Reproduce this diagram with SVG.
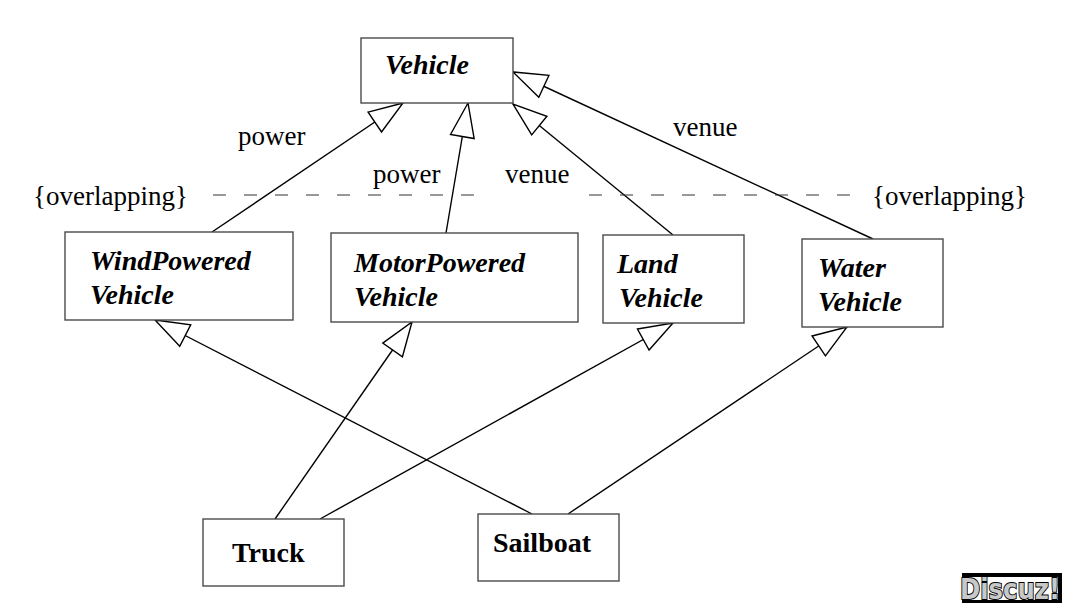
<svg xmlns="http://www.w3.org/2000/svg" width="1080" height="613" viewBox="0 0 1080 613">
<defs>
<style>
.box{fill:#fff;stroke:#4a4a4a;stroke-width:1.4}
.cls{font-family:"Liberation Serif","Times New Roman",serif;font-weight:bold;font-style:italic;font-size:28px;fill:#000}
.leaf{font-family:"Liberation Serif","Times New Roman",serif;font-weight:bold;font-size:28px;fill:#000}
.lbl{font-family:"Liberation Serif","Times New Roman",serif;font-size:27px;fill:#000}
.gen{fill:none;stroke:#000;stroke-width:1.4;marker-end:url(#tri)}
.dash{fill:none;stroke:#333;stroke-width:1.2;stroke-dasharray:13 18}
</style>
<marker id="tri" markerUnits="userSpaceOnUse" markerWidth="40" markerHeight="30" refX="35" refY="14" orient="auto" overflow="visible">
<path d="M1,2 L35,14 L1,26 Z" fill="#fff" stroke="#000" stroke-width="1.4" stroke-linejoin="miter"/>
</marker>
</defs>
<rect width="1080" height="613" fill="#fff"/>

<g id="connectors">
<line class="gen" x1="212" y1="232" x2="403" y2="103"/>
<line class="gen" x1="446" y1="233" x2="468" y2="103"/>
<line class="gen" x1="673" y1="235" x2="513" y2="104"/>
<line class="gen" x1="873" y1="239" x2="513" y2="72"/>
<line class="gen" x1="275" y1="519" x2="412" y2="322"/>
<line class="gen" x1="320" y1="519" x2="673" y2="323"/>
<line class="gen" x1="532" y1="514" x2="155" y2="320"/>
<line class="gen" x1="568" y1="514" x2="847" y2="327"/>
<line class="dash" x1="213" y1="195" x2="481" y2="195"/>
<line class="dash" x1="589" y1="195" x2="856" y2="195"/>
<text class="lbl" x="238" y="145">power</text>
<text class="lbl" x="373" y="183">power</text>
<text class="lbl" x="505" y="183">venue</text>
<text class="lbl" x="673" y="136">venue</text>
<text class="lbl" x="33" y="205">{overlapping}</text>
<text class="lbl" x="872" y="205">{overlapping}</text>
</g>

<g id="vehicle">
<rect class="box" x="361" y="38" width="152" height="65"/>
<text class="cls" x="385" y="74">Vehicle</text>
</g>
<g id="windpowered">
<rect class="box" x="65" y="232" width="228" height="88"/>
<text class="cls" x="90" y="270">WindPowered</text>
<text class="cls" x="90" y="304">Vehicle</text>
</g>
<g id="motorpowered">
<rect class="box" x="331" y="233" width="247" height="89"/>
<text class="cls" x="354" y="272">MotorPowered</text>
<text class="cls" x="354" y="306">Vehicle</text>
</g>
<g id="land">
<rect class="box" x="603" y="235" width="141" height="88"/>
<text class="cls" x="617" y="273">Land</text>
<text class="cls" x="619" y="307">Vehicle</text>
</g>
<g id="water">
<rect class="box" x="802" y="239" width="141" height="88"/>
<text class="cls" x="818" y="277">Water</text>
<text class="cls" x="818" y="311">Vehicle</text>
</g>
<g id="truck">
<rect class="box" x="203" y="519" width="141" height="67"/>
<text class="leaf" x="232" y="562">Truck</text>
</g>
<g id="sailboat">
<rect class="box" x="478" y="514" width="141" height="67"/>
<text class="leaf" x="493" y="552">Sailboat</text>
</g>

<g id="watermark">
<rect x="962" y="573" width="100" height="30" fill="#000"/>
<rect x="958" y="577" width="100" height="23" fill="#fff"/>
<text x="960" y="599" font-family="'DejaVu Sans',sans-serif" font-weight="bold" font-size="29" textLength="100" lengthAdjust="spacingAndGlyphs" fill="#c8c8c8" stroke="#000" stroke-width="2" paint-order="stroke">Discuz!</text>
</g>
</svg>
